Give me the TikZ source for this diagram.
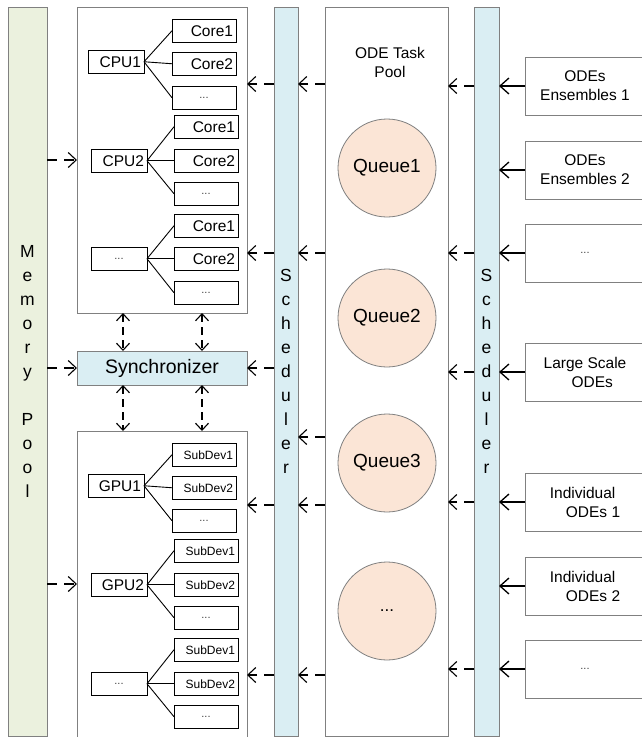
\documentclass[tikz,border=0pt]{standalone}
\usepackage{fontspec}
\setmainfont{Liberation Sans}
\usetikzlibrary{arrows.meta,calc}
\definecolor{memfill}{HTML}{EBF1DE}
\definecolor{schfill}{HTML}{DAEEF3}
\definecolor{qfill}{HTML}{FBE5D6}
\definecolor{bordergray}{HTML}{808080}
\definecolor{dotgray}{HTML}{404040}
\begin{document}
\begin{tikzpicture}[x=1pt,y=-1pt,
  bigbox/.style={draw=bordergray, line width=0.8pt, inner sep=0pt, outer sep=0pt, anchor=north west},
  bar/.style={bigbox, minimum width=#1, minimum height=729pt, align=center, font=\fontsize{17.5}{24}\selectfont},
  smallbox/.style={draw=black, line width=0.9pt, inner ysep=0pt, inner xsep=3pt, outer sep=0pt, anchor=north west, minimum height=23.5pt, font=\fontsize{15.5}{18}\selectfont},
  proc/.style={smallbox, text width=50pt, align=right},
  core/.style={smallbox, text width=58pt, align=right},
  sub/.style={core, font=\fontsize{12}{14}\selectfont},
  procdots/.style={smallbox, text width=50pt, align=center, font=\fontsize{11}{14}\selectfont\color{dotgray}},
  coredots/.style={smallbox, text width=58pt, align=center, font=\fontsize{11}{14}\selectfont\color{dotgray}},
  inbox/.style={bigbox, minimum width=120pt, minimum height=58pt, align=left, font=\fontsize{15.5}{19}\selectfont},
  queue/.style={circle, draw=bordergray, line width=0.8pt, fill=qfill, minimum size=98pt, inner sep=0pt, font=\fontsize{19}{22}\selectfont},
  fan/.style={draw=black, line width=0.9pt},
  dasharr/.style={draw=black, line width=1.1pt, dash pattern=on 10pt off 7pt, -{Straight Barb[length=8pt,width=15pt,line width=1.1pt]}},
  solidarr/.style={draw=black, line width=1.3pt, -{Straight Barb[length=9pt,width=16pt,line width=1.3pt]}},
  biarr/.style={draw=black, line width=1.1pt, dash pattern=on 8pt off 5pt, {Straight Barb[length=7pt,width=13pt,line width=1.1pt]}-{Straight Barb[length=7pt,width=13pt,line width=1.1pt]}}
]
\useasboundingbox (0,0) rectangle (641,737);
\fill[white] (0,0) rectangle (641,737);

% vertical bars
\node[bar=39pt, fill=memfill] (mem) at (8,7) {M\\e\\m\\o\\r\\y\\[24pt]P\\o\\o\\l};
\node[bar=24pt, fill=schfill] (sch1) at (274,7) {S\\c\\h\\e\\d\\u\\l\\e\\r};
\node[bar=25pt, fill=schfill] (sch2) at (474,7) {S\\c\\h\\e\\d\\u\\l\\e\\r};

% task pool
\node[bigbox, minimum width=123pt, minimum height=729pt] (pool) at (325,7) {};
\node[align=center, font=\fontsize{15.5}{19}\selectfont] (pooltitle) at (390,62) {ODE Task\\Pool};
\node[queue] (q1) at (387,168) {Queue1};
\node[queue] (q2) at (387,318) {Queue2};
\node[queue] (q3) at (387,463) {Queue3};
\node[queue, font=\fontsize{17}{20}\selectfont] (q4) at (387,611) {...};

% CPU / GPU / sync boxes
\node[bigbox, minimum width=170pt, minimum height=306pt] (cpubox) at (77,7) {};
\node[bigbox, minimum width=170pt, minimum height=34pt, fill=schfill, font=\fontsize{19.5}{22}\selectfont] (sync) at (77,351) {Synchronizer};
\node[bigbox, minimum width=170pt, minimum height=306pt] (gpubox) at (77,431) {};

% CPUs
\node[proc] (cpu1) at (88,50) {CPU1};
\node[core] (c11) at (172,19) {Core1};
\node[core] (c12) at (172,52) {Core2};
\node[coredots] (c13) at (172,86) {...};
\node[proc] (cpu2) at (91,149) {CPU2};
\node[core] (c21) at (174,115) {Core1};
\node[core] (c22) at (174,149) {Core2};
\node[coredots] (c23) at (174,182) {...};
\node[procdots] (cpu3) at (91,247) {...};
\node[core] (c31) at (174,214) {Core1};
\node[core] (c32) at (174,247) {Core2};
\node[coredots] (c33) at (174,281) {...};
\foreach \p in {1,2,3}{
  \foreach \c in {1,2,3}{
    \draw[fan] (cpu\p.east) -- (c\p\c.west);
  }
}

% GPUs
\node[proc] (gpu1) at (88,474) {GPU1};
\node[sub] (g11) at (172,443) {SubDev1};
\node[sub] (g12) at (172,476) {SubDev2};
\node[coredots] (g13) at (172,509) {...};
\node[proc] (gpu2) at (91,573) {GPU2};
\node[sub] (g21) at (174,539) {SubDev1};
\node[sub] (g22) at (174,573) {SubDev2};
\node[coredots] (g23) at (174,606) {...};
\node[procdots] (gpu3) at (91,672) {...};
\node[sub] (g31) at (174,638) {SubDev1};
\node[sub] (g32) at (174,672) {SubDev2};
\node[coredots] (g33) at (174,705) {...};
\foreach \p in {1,2,3}{
  \foreach \c in {1,2,3}{
    \draw[fan] (gpu\p.east) -- (g\p\c.west);
  }
}

% input boxes
\node[inbox, align=center] (in1) at (525,57) {ODEs\\Ensembles 1};
\node[inbox, align=center] (in2) at (525,141) {ODEs\\Ensembles 2};
\node[inbox, align=center, font=\fontsize{11}{14}\selectfont\color{dotgray}] (in3) at (525,224) {...};
\node[inbox] (in4) at (525,343) {Large Scale\\\hspace*{28pt}ODEs};
\node[inbox] (in5) at (525,473) {Individual\\\hspace*{16pt}ODEs 1};
\node[inbox] (in6) at (525,557) {Individual\\\hspace*{16pt}ODEs 2};
\node[inbox, align=center, font=\fontsize{11}{14}\selectfont\color{dotgray}] (in7) at (525,640) {...};

% arrows: inputs -> scheduler 2
\foreach \n in {in1,in2,in3,in4,in5,in6,in7}{
  \draw[solidarr] (\n.west) -- (sch2.east |- \n.west);
}
% scheduler 2 -> pool
\foreach \n in {in1,in3,in4,in5,in7}{
  \draw[dasharr] (sch2.west |- \n.west) -- (pool.east |- \n.west);
}
% pool -> scheduler 1
\foreach \y in {84,253,437,505,675}{
  \draw[dasharr] (pool.west |- 0,\y) -- (sch1.east |- 0,\y);
}
% scheduler 1 -> resources
\draw[dasharr] (sch1.west |- 0,84) -- (cpubox.east |- 0,84);
\draw[dasharr] (sch1.west |- 0,253) -- (cpubox.east |- 0,253);
\draw[dasharr] (sch1.west |- sync.east) -- (sync.east);
\draw[dasharr] (sch1.west |- 0,505) -- (gpubox.east |- 0,505);
\draw[dasharr] (sch1.west |- 0,675) -- (gpubox.east |- 0,675);
% memory pool -> resources
\draw[dasharr] (mem.east |- cpubox.west) -- (cpubox.west);
\draw[dasharr] (mem.east |- sync.west) -- (sync.west);
\draw[dasharr] (mem.east |- gpubox.west) -- (gpubox.west);
% synchronizer links
\draw[biarr] (cpubox.south -| 123,0) -- (sync.north -| 123,0);
\draw[biarr] (cpubox.south -| 202,0) -- (sync.north -| 202,0);
\draw[biarr] (sync.south -| 123,0) -- (gpubox.north -| 123,0);
\draw[biarr] (sync.south -| 202,0) -- (gpubox.north -| 202,0);
\end{tikzpicture}
\end{document}
